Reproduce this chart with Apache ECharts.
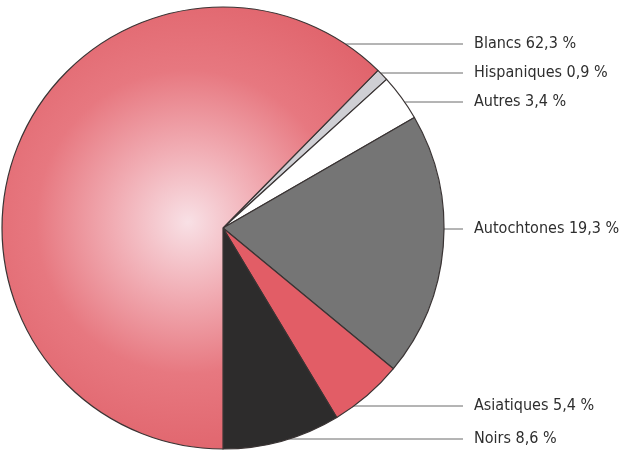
<!DOCTYPE html>
<html>
<head>
<meta charset="utf-8">
<script src="https://cdn.jsdelivr.net/npm/echarts@6/dist/echarts.min.js"></script>
<style>
  html, body { margin: 0; padding: 0; background: #fff; }
  #chart { width: 621px; height: 452px; }
</style>
</head>
<body>
<div id="chart"></div>
<script>
// Data (clockwise order starting just right of "Blancs")
const categories = ['Hispaniques', 'Autres', 'Autochtones', 'Asiatiques', 'Noirs', 'Blancs'];
const values = [0.9, 3.4, 19.3, 5.4, 8.6, 62.3];
const labelTexts = ['Hispaniques 0,9 %', 'Autres 3,4 %', 'Autochtones 19,3 %', 'Asiatiques 5,4 %', 'Noirs 8,6 %', 'Blancs 62,3 %'];

// Styling / layout
const CX = 223, CY = 228, R = 221;
const LABEL_X = 474, LINE_END_X = 463;
const labelY = { 'Blancs': 44, 'Hispaniques': 73, 'Autres': 102, 'Autochtones': 229, 'Asiatiques': 406, 'Noirs': 439 };
const colors = {
  'Blancs': { type: 'radial', x: 188, y: 222, r: 245, global: true,
    colorStops: [ { offset: 0, color: '#f8e0e5' }, { offset: 0.3, color: '#f1adb4' }, { offset: 0.62, color: '#e77880' }, { offset: 1, color: '#e0636b' } ] },
  'Hispaniques': '#cfcfd4',
  'Autres': '#ffffff',
  'Autochtones': '#757575',
  'Asiatiques': '#e25d66',
  'Noirs': '#2d2c2c'
};

const total = values.reduce((a, b) => a + b, 0);
// Start so that "Noirs" ends exactly at six o'clock
const before = values.slice(0, 5).reduce((a, b) => a + b, 0);
const startAngle = 90 - (180 - before / total * 360);

const chart = echarts.init(document.getElementById('chart'), null, { renderer: 'canvas' });
chart.setOption({
  backgroundColor: '#ffffff',
  animation: false,
  series: [{
    type: 'pie',
    center: [CX, CY],
    radius: R,
    startAngle: startAngle,
    clockwise: true,
    avoidLabelOverlap: false,
    data: categories.map((c, i) => ({
      name: c,
      value: values[i],
      itemStyle: { color: colors[c] },
      label: { formatter: labelTexts[i] }
    })),
    itemStyle: { borderColor: '#3a3434', borderWidth: 1.2 },
    label: {
      show: true,
      position: 'outside',
      fontFamily: '"DejaVu Sans Condensed", "Liberation Sans Narrow", sans-serif',
      fontSize: 16,
      color: '#2e2e2e'
    },
    labelLine: { show: true, length: 10, length2: 10, smooth: false, lineStyle: { color: '#6a6a6a', width: 1 } },
    labelLayout: function (params) {
      const name = categories[params.dataIndex];
      const y = labelY[name];
      const dy = y - CY;
      const xEdge = CX + Math.sqrt(Math.max(0, R * R - dy * dy));
      return {
        x: LABEL_X,
        y: y,
        align: 'left',
        verticalAlign: 'middle',
        labelLinePoints: [[xEdge, y], [xEdge + 1, y], [LINE_END_X, y]]
      };
    },
    emphasis: { disabled: true }
  }]
});
</script>
</body>
</html>
